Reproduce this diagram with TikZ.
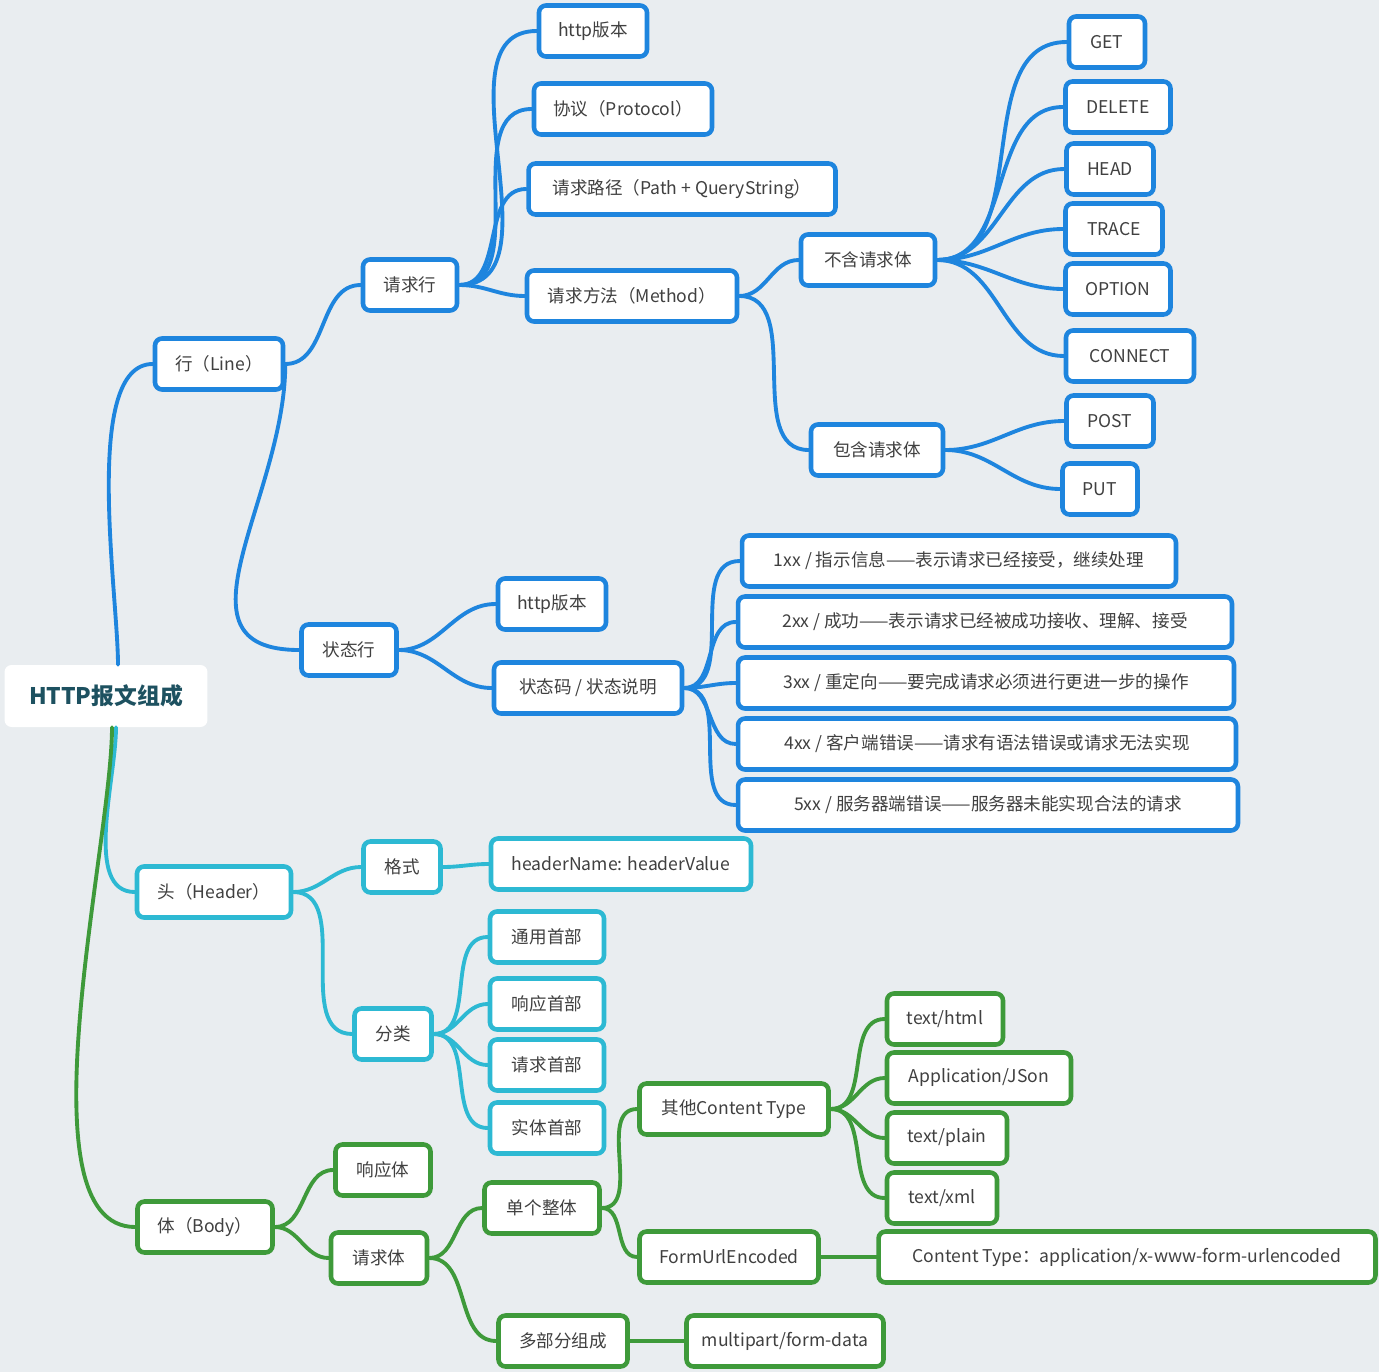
\documentclass[tikz,border=0pt]{standalone}
\usepackage{fontspec}
\newfontfamily\cjk{Noto Sans CJK SC}
\definecolor{bgc}{HTML}{E9EDF0}
\definecolor{mblue}{HTML}{1E85DE}
\definecolor{mcyan}{HTML}{2DB9D3}
\definecolor{mgreen}{HTML}{3E9A3A}
\definecolor{roottxt}{HTML}{1D5160}
\tikzset{
  bbox/.style={draw, rounded corners=4pt, line width=2.6pt, fill=white,
    minimum height=1.02cm, inner xsep=4pt, font=\cjk\fontsize{10}{12}\selectfont, text=black!75},
  lk/.style={line width=2.2pt, line cap=round},
}
\begin{document}
\begin{tikzpicture}[x=0.02cm,y=-0.02cm]
  \fill[bgc] (0,0) rectangle (1379,1372);
  \node[fill=white, rounded corners=4pt, minimum width=4.06cm, minimum height=1.24cm,
    font=\cjk\bfseries\fontsize{13}{15}\selectfont, text=roottxt] (root) at (106,696) {HTTP报文组成};
  % line branch
  \begin{scope}[every node/.style={bbox, draw=mblue}]
    \node[minimum width=2.56cm] (line) at (219,364) {行（Line）};
    \node[minimum width=1.88cm] (reqline) at (410,285) {请求行};
    \node[minimum width=2.16cm] (ver) at (593,31) {http版本};
    \node[minimum width=3.56cm] (proto) at (623,109) {协议（Protocol）};
    \node[minimum width=6.14cm] (path) at (682,189) {请求路径（Path + QueryString）};
    \node[minimum width=4.2cm] (method) at (632,296) {请求方法（Method）};
    \node[minimum width=2.68cm] (nobody) at (868,260) {不含请求体};
    \node[minimum width=2.64cm] (hasbody) at (877,450) {包含请求体};
    \node[minimum width=1.52cm] (get) at (1107,42) {GET};
    \node[minimum width=2.1cm] (delete) at (1118,107) {DELETE};
    \node[minimum width=1.74cm] (head) at (1110,169) {HEAD};
    \node[minimum width=1.94cm] (trace) at (1114,229) {TRACE};
    \node[minimum width=2.1cm] (option) at (1118,289) {OPTION};
    \node[minimum width=2.56cm] (connect) at (1130,356) {CONNECT};
    \node[minimum width=1.74cm] (post) at (1110,421) {POST};
    \node[minimum width=1.5cm] (put) at (1100,489) {PUT};
    \node[minimum width=1.9cm] (status) at (349,650) {状态行};
    \node[minimum width=2.16cm] (ver2) at (552,604) {http版本};
    \node[minimum width=3.76cm] (code) at (588,688) {状态码 / 状态说明};
    \node[minimum width=8.68cm] (c1) at (959,561) {1xx / 指示信息——表示请求已经接受，继续处理};
    \node[minimum width=9.88cm] (c2) at (985,622) {2xx / 成功——表示请求已经被成功接收、理解、接受};
    \node[minimum width=9.92cm] (c3) at (986,683) {3xx / 重定向——要完成请求必须进行更进一步的操作};
    \node[minimum width=9.96cm] (c4) at (987,744) {4xx / 客户端错误——请求有语法错误或请求无法实现};
    \node[minimum width=10cm] (c5) at (988,805) {5xx / 服务器端错误——服务器未能实现合法的请求};
  \end{scope}
  % header branch
  \begin{scope}[every node/.style={bbox, draw=mcyan}]
    \node[minimum width=3.08cm] (header) at (214,892) {头（Header）};
    \node[minimum width=1.54cm] (fmt) at (402,867) {格式};
    \node[minimum width=5.2cm] (hv) at (621,864) {headerName: headerValue};
    \node[minimum width=1.54cm] (cat) at (393,1034) {分类};
    \node[minimum width=2.28cm] (h1) at (547,937) {通用首部};
    \node[minimum width=2.28cm] (h2) at (547,1004) {响应首部};
    \node[minimum width=2.28cm] (h3) at (547,1065) {请求首部};
    \node[minimum width=2.28cm] (h4) at (547,1128) {实体首部};
  \end{scope}
  % body branch
  \begin{scope}[every node/.style={bbox, draw=mgreen}]
    \node[minimum width=2.7cm] (body) at (205,1227) {体（Body）};
    \node[minimum width=1.9cm] (resp) at (383,1170) {响应体};
    \node[minimum width=1.92cm] (reqb) at (379,1258) {请求体};
    \node[minimum width=2.3cm] (single) at (542,1208) {单个整体};
    \node[minimum width=2.58cm] (multi) at (563,1341) {多部分组成};
    \node[minimum width=3.78cm] (other) at (734,1109) {其他Content Type};
    \node[minimum width=3.58cm] (form) at (729,1257) {FormUrlEncoded};
    \node[minimum width=9.94cm] (ctype) at (1127,1257) {Content Type：application/x-www-form-urlencoded};
    \node[minimum width=3.94cm] (mp) at (785,1341) {multipart/form-data};
    \node[minimum width=2.32cm] (html) at (945,1019) {text/html};
    \node[minimum width=3.68cm] (json) at (979,1078) {Application/JSon};
    \node[minimum width=2.4cm] (plain) at (947,1138) {text/plain};
    \node[minimum width=2.2cm] (xml) at (942,1198) {text/xml};
  \end{scope}
  % connectors
  \draw[lk, mblue] (root.north) ++(12,0) to[out=90,in=180,looseness=0.6] (line.west);
  \draw[lk, mblue] (line.east) to[out=-90,in=180,looseness=1.2] (status.west);
  \foreach \a/\b in {line/reqline, reqline/ver, reqline/proto, reqline/path, reqline/method,
      method/nobody, method/hasbody, nobody/get, nobody/delete, nobody/head, nobody/trace,
      nobody/option, nobody/connect, hasbody/post, hasbody/put, status/ver2, status/code,
      code/c1, code/c2, code/c3, code/c4, code/c5}
    \draw[lk, mblue] (\a.east) to[out=0,in=180] (\b.west);
  \draw[lk, mcyan] (root.south) ++(10,0) to[out=-90,in=180,looseness=0.8] (header.west);
  \foreach \a/\b in {header/fmt, fmt/hv, header/cat, cat/h1, cat/h2, cat/h3, cat/h4}
    \draw[lk, mcyan] (\a.east) to[out=0,in=180] (\b.west);
  \draw[lk, mgreen] (root.south) ++(6,0) to[out=-90,in=180,looseness=0.6] (body.west);
  \foreach \a/\b in {body/resp, body/reqb, reqb/single, reqb/multi, single/other, single/form,
      form/ctype, multi/mp, other/html, other/json, other/plain, other/xml}
    \draw[lk, mgreen] (\a.east) to[out=0,in=180] (\b.west);
\end{tikzpicture}
\end{document}
